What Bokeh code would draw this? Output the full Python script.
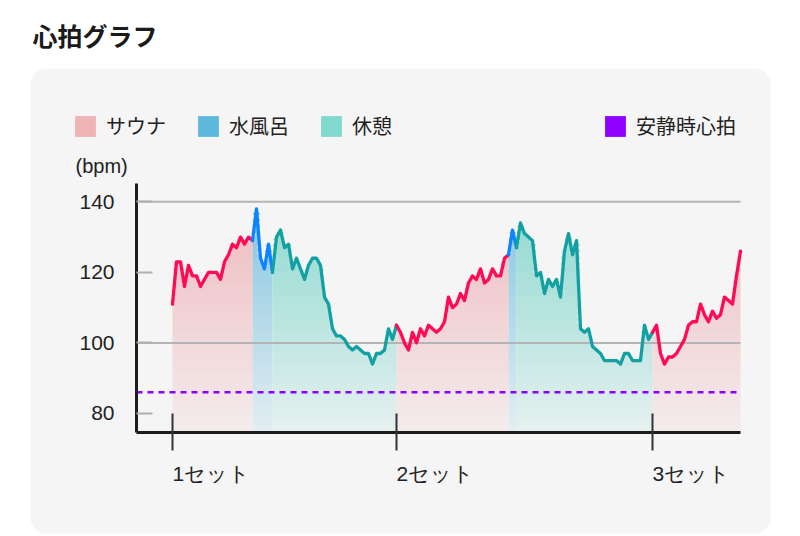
import numpy as np
from bokeh.plotting import figure
from bokeh.models import (FixedTicker, Label, LabelSet, Legend, LegendItem, BoxAnnotation,
                          ColumnDataSource, Range1d)
from bokeh.core.properties import value
from bokeh.embed import file_html
from bokeh.resources import INLINE

TITLE = "心拍グラフ"
UNIT_LABEL = "(bpm)"

# heart rate samples (bpm), one sample per fixed time step
bpm = [
    # sauna 1 (0-20)
    111, 123, 123, 116, 122, 119, 119, 116, 118, 120, 120, 120, 118, 123, 125, 128, 127, 130, 128, 130, 129,
    # cold bath 1 (21-25)
    138, 124, 121, 128, 120,
    # rest 1 (26-56)
    130, 132, 127, 128, 121, 124, 121, 118, 122, 124, 124, 122, 113, 111, 104, 102, 102, 101, 99, 98,
    99, 98, 97, 97, 94, 97, 97, 98, 104, 101, 105,
    # sauna 2 (57-84)
    103, 100, 98, 103, 100, 104, 102, 105, 104, 103, 104, 106, 113, 110, 111, 114, 112, 117, 119, 118,
    121, 117, 118, 121, 119, 119, 124, 125,
    # cold bath 2 (85-86)
    132, 127,
    # rest 2 (87-120)
    134, 131, 130, 129, 119, 120, 114, 118, 116, 118, 113, 126, 131, 125, 129, 104, 103, 104, 99, 98,
    97, 95, 95, 95, 95, 94, 97, 97, 95, 95, 95, 105, 101, 103,
    # sauna 3 (121-142)
    105, 97, 94, 96, 96, 97, 99, 101, 105, 106, 106, 111, 108, 106, 109, 107, 108, 113, 112, 111, 119, 126,
]

phase_kind = ["sauna", "cold", "rest", "sauna", "cold", "rest", "sauna"]
phase_start = [0, 20, 25, 56, 84, 86, 120]
phase_end = [20, 25, 56, 84, 86, 120, 142]

set_ticks = [0, 56, 120]
set_labels = ["1セット", "2セット", "3セット"]
y_ticks = [80, 100, 120, 140]
grid_levels = [100, 140]
resting_bpm = [86]

legend_kinds = ["sauna", "cold", "rest"]
legend_labels = {"sauna": "サウナ", "cold": "水風呂", "rest": "休憩"}
resting_label = "安静時心拍"

line_colors = {"sauna": "#FF0A54", "cold": "#0A84FF", "rest": "#13A0A3"}
fill_base = {"sauna": "#EB9FA5", "cold": "#4FAED6", "rest": "#5CCBBE"}
legend_colors = {"sauna": "#F0B4B6", "cold": "#5DB9DC", "rest": "#80D8CE"}
resting_color = "#8E00FF"
CARD = "#F5F5F5"

# visible data window and its pixel placement on the 800x536 canvas
X0, X1 = -9, 142
Y0, Y1 = 74.6, 145.2
W, H = 800, 536
PL, PR, PT, PB = 136, 740, 183, 432

kx = (PR - PL) / (X1 - X0)
ky = (PB - PT) / (Y1 - Y0)
x_range = Range1d(X0 - PL / kx, X1 + (W - PR) / kx)
y_range = Range1d(Y0 - (H - PB) / ky, Y1 + PT / ky)

JP = "Noto Sans CJK JP"
LAT = "Liberation Sans"


def hex2rgb(h):
    h = h.lstrip("#")
    return np.array([int(h[i:i + 2], 16) for i in (0, 2, 4)], dtype=float)


def blend(c, bg, a):
    v = a * hex2rgb(c) + (1 - a) * hex2rgb(bg)
    return "#%02x%02x%02x" % tuple(int(round(t)) for t in v)


p = figure(width=W, height=H, x_range=x_range, y_range=y_range, title=None,
           output_backend="svg", toolbar_location=None, min_border=0,
           background_fill_color="#FFFFFF", border_fill_color="#FFFFFF", outline_line_color=None)

# card
card = BoxAnnotation(left=30, right=770, top=H - 68, bottom=H - 533,
                     left_units="screen", right_units="screen", top_units="screen", bottom_units="screen",
                     fill_color=CARD, fill_alpha=1.0, line_color=None, border_radius=16, level="underlay")
p.add_layout(card)

# gradient fills (horizontal bands)
x_all = np.arange(len(bpm), dtype=float)
y_all = np.array(bpm, dtype=float)
levels = np.linspace(Y0, Y1, 41)
eps = 0.25
pxs, pys, pcs = [], [], []
for kind, a, b in zip(phase_kind, phase_start, phase_end):
    xs = x_all[a:b + 1]
    vs = y_all[a:b + 1]
    for k in range(len(levels) - 1):
        lo, hi = levels[k], levels[k + 1]
        if not np.any(vs > lo):
            continue
        top = np.clip(vs, lo, hi)
        bot = np.where(vs > lo, max(lo - eps, Y0), lo)
        t = min(max(((lo + hi) / 2 - Y0) / (140 - Y0), 0), 1)
        alpha = 0.10 + 0.58 * t
        pxs.append(list(xs) + list(xs[::-1]))
        pys.append(list(top) + list(bot[::-1]))
        pcs.append(blend(fill_base[kind], CARD, alpha))
p.patches(pxs, pys, fill_color=pcs, line_color=None)

# grid lines
p.segment(x0=X0, x1=X1, y0=grid_levels, y1=grid_levels, line_color="#B4B4B4", line_width=2)

# heart-rate lines
for kind, a, b in zip(phase_kind, phase_start, phase_end):
    p.line(x_all[a:b + 1], y_all[a:b + 1], line_color=line_colors[kind], line_width=3.3,
           line_join="round", line_cap="round")

# resting heart rate
p.segment(x0=X0, x1=X1, y0=resting_bpm, y1=resting_bpm, line_color=resting_color,
          line_width=2.5, line_dash="6 5")

# axes
p.xgrid.grid_line_color = None
p.ygrid.grid_line_color = None

xa = p.xaxis[0]
xa.fixed_location = Y0
xa.bounds = (X0, X1)
xa.ticker = FixedTicker(ticks=set_ticks)
xa.major_label_overrides = {t: "" for t in set_ticks}
xa.axis_line_width = 3
xa.axis_line_color = "#1C1C1C"
xa.major_tick_in = 19
xa.major_tick_out = 18
xa.major_tick_line_width = 2
xa.major_tick_line_color = "#333333"
xa.minor_tick_line_color = None

ya = p.yaxis[0]
ya.fixed_location = X0
ya.bounds = (Y0, Y1)
ya.ticker = FixedTicker(ticks=y_ticks)
ya.axis_line_width = 3
ya.axis_line_color = "#1C1C1C"
ya.major_tick_in = 16
ya.major_tick_out = 0
ya.major_tick_line_width = 2
ya.major_tick_line_color = "#B0B0B0"
ya.minor_tick_line_color = None
ya.major_label_standoff = 22
ya.major_label_text_font = LAT
ya.major_label_text_font_size = "21px"
ya.major_label_text_color = "#222222"

# set labels, left-aligned at their ticks
set_src = ColumnDataSource(dict(x=set_ticks, text=set_labels))
p.add_layout(LabelSet(x="x", y=H - 473, y_units="screen", text="text", source=set_src,
                      text_font=value(LAT), text_font_size=value("21px"), text_color="#222222",
                      text_align="left", text_baseline="middle"))

# texts
p.add_layout(Label(x=32, y=H - 34, x_units="screen", y_units="screen", text=TITLE,
                   text_font=JP, text_font_style="bold", text_font_size="25px",
                   text_color="#1A1A1A", text_baseline="middle"))
p.add_layout(Label(x=75, y=H - 165, x_units="screen", y_units="screen", text=UNIT_LABEL,
                   text_font=LAT, text_font_size="20px", text_color="#222222",
                   text_baseline="middle"))

# legends (swatch renderers hold no drawable point)
items = []
for kind in legend_kinds:
    r = p.quad(left=[np.nan], right=[np.nan], top=[np.nan], bottom=[np.nan],
               fill_color=legend_colors[kind], line_color=None)
    items.append(LegendItem(label=legend_labels[kind], renderers=[r]))
r_rest = p.quad(left=[np.nan], right=[np.nan], top=[np.nan], bottom=[np.nan],
                fill_color=resting_color, line_color=None)

common = dict(orientation="horizontal", glyph_width=26, glyph_height=26, label_standoff=8,
              spacing=29, padding=0, margin=0, border_line_color=None, background_fill_alpha=0,
              label_text_font=JP, label_text_font_size="20px", label_text_color="#222222")
leg1 = Legend(items=items, location=(72, H - 140), **common)
leg2 = Legend(items=[LegendItem(label=resting_label, renderers=[r_rest])], location=(602, H - 140), **common)
p.add_layout(leg1)
p.add_layout(leg2)

open("out.html", "w").write(file_html(p, INLINE))
